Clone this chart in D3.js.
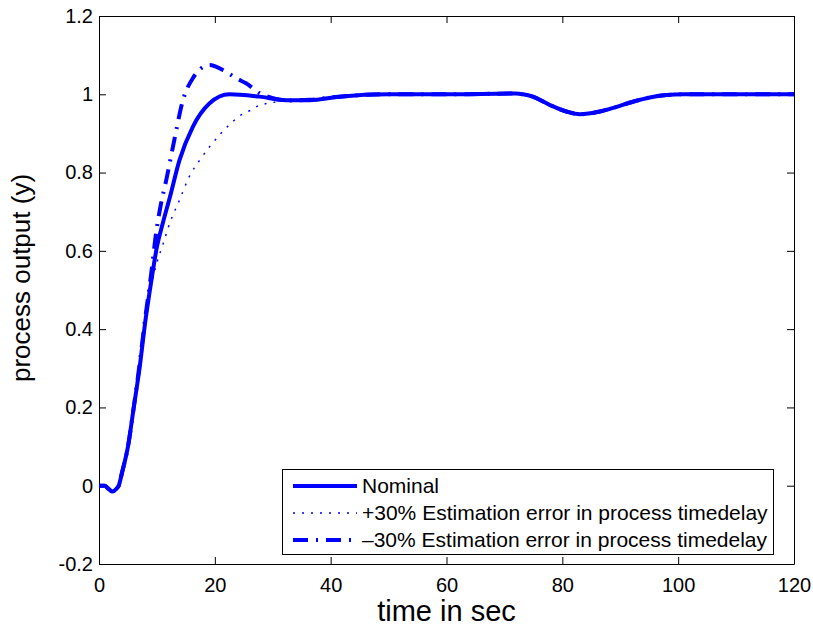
<!DOCTYPE html>
<html>
<head>
<meta charset="utf-8">
<script src="https://cdn.jsdelivr.net/npm/d3@7"></script>
<style>
  body { margin: 0; background: #fff; }
  svg { display: block; font-family: "Liberation Sans", Arial, Helvetica, sans-serif; }
  .axis text { font-size: 20px; fill: #000; }
  .axis path, .axis line { stroke: #000; stroke-width: 1; }
</style>
</head>
<body>
<div class="chart"></div>
<script>
// Axis ticks.
const xTicks = [0, 20, 40, 60, 80, 100, 120];
const yTicks = [-0.2, 0, 0.2, 0.4, 0.6, 0.8, 1, 1.2];
const yTickLabels = ["-0.2", "0", "0.2", "0.4", "0.6", "0.8", "1", "1.2"];

// Nominal response.
const tNominal = [0, 1, 1.5, 2.3, 3, 3.4, 4, 5, 6, 7, 8, 9, 10, 11, 12.2, 13.9, 16.2, 19.1, 22.5, 27.7, 32.3, 36.4, 41.5];
const yNominal = [0, 0, -0.006, -0.015, -0.008, 0, 0.035, 0.1, 0.2, 0.3, 0.42, 0.52, 0.61, 0.67, 0.735, 0.832, 0.917, 0.977, 1.0, 0.994, 0.985, 0.985, 0.994];

// +30% estimation error in time delay.
const tPlus = [0, 1, 1.5, 2.3, 3, 3.4, 4, 5, 6, 7, 8, 9, 10, 11, 12.2, 13.9, 15.6, 17.4, 19.1, 20.8, 22.5, 24.3, 26, 27.7, 29.7, 32.3, 36.4, 41.5];
const yPlus = [0, 0, -0.006, -0.015, -0.008, 0, 0.035, 0.1, 0.2, 0.3, 0.42, 0.51, 0.57, 0.615, 0.67, 0.73, 0.79, 0.832, 0.866, 0.896, 0.922, 0.945, 0.958, 0.972, 0.978, 0.985, 0.986, 0.994];

// -30% estimation error in time delay.
const tMinus = [0, 1, 1.5, 2.3, 3, 3.4, 4, 5, 6, 7, 8, 9, 9.9, 10.7, 11.6, 13, 14.5, 16.2, 19.1, 21.4, 23.7, 25.4, 27.7, 30, 33, 36.4, 41.5];
const yMinus = [0, 0, -0.006, -0.015, -0.008, 0, 0.035, 0.1, 0.2, 0.31, 0.43, 0.54, 0.65, 0.72, 0.78, 0.883, 0.985, 1.041, 1.075, 1.062, 1.041, 1.028, 1.003, 0.99, 0.984, 0.986, 0.994];

// Shared tail (all three curves coincide, load disturbance near t=73).
const tTail = [50, 60, 72, 73.2, 74.9, 77.8, 80.7, 83, 86.5, 89.4, 92.2, 95.1, 98, 100.8, 110, 120];
const yTail = [1.0, 1.0, 1.002, 1.0, 0.994, 0.973, 0.956, 0.949, 0.956, 0.968, 0.981, 0.992, 0.998, 1.0, 1.0, 1.0];

const seriesNames = [
  "Nominal",
  "+30% Estimation error in process timedelay",
  "\u201330% Estimation error in process timedelay",
];

function toPoints(ts, ys) {
  return ts.map((t, i) => ({ t: t, y: ys[i] }));
}

const series = [
  { name: seriesNames[0], values: toPoints(tNominal.concat(tTail), yNominal.concat(yTail)), width: 4, dash: null },
  { name: seriesNames[1], values: toPoints(tPlus.concat(tTail), yPlus.concat(yTail)), width: 1.5, dash: "2,7" },
  { name: seriesNames[2], values: toPoints(tMinus.concat(tTail), yMinus.concat(yTail)), width: 4, dash: "15,8,2,8" },
];

// Margin convention.
const margin = { top: 16, right: 19, bottom: 63, left: 99 };
const width = 813 - margin.left - margin.right;
const height = 627 - margin.top - margin.bottom;

const root = d3.select(".chart")
  .append("svg")
  .attr("width", 813)
  .attr("height", 627);

const svg = root.append("g")
  .attr("transform", `translate(${margin.left}, ${margin.top})`);

// Scales.
const xScale = d3.scaleLinear().domain([0, 120]).range([0, width]);
const yScale = d3.scaleLinear().domain([-0.2, 1.2]).range([height, 0]);

// Axes (MATLAB style box with inward ticks).
svg.append("g")
  .attr("class", "x axis")
  .attr("transform", `translate(0, ${height})`)
  .call(d3.axisBottom(xScale).tickValues(xTicks).tickFormat(d3.format("d"))
    .tickSizeInner(-7).tickSizeOuter(0).tickPadding(14));

svg.append("g")
  .attr("class", "x axis top")
  .call(d3.axisTop(xScale).tickValues(xTicks).tickFormat("")
    .tickSizeInner(-7).tickSizeOuter(0));

svg.append("g")
  .attr("class", "y axis")
  .call(d3.axisLeft(yScale).tickValues(yTicks).tickFormat((d, i) => yTickLabels[i])
    .tickSizeInner(-7).tickSizeOuter(0).tickPadding(6));

svg.append("g")
  .attr("class", "y axis right")
  .attr("transform", `translate(${width}, 0)`)
  .call(d3.axisRight(yScale).tickValues(yTicks).tickFormat("")
    .tickSizeInner(-7).tickSizeOuter(0));

// Axis labels.
root.append("text")
  .attr("x", margin.left + width / 2)
  .attr("y", 621)
  .attr("text-anchor", "middle")
  .style("font-size", "29px")
  .text("time in sec");

root.append("text")
  .attr("transform", "translate(30, 278) rotate(-90)")
  .attr("text-anchor", "middle")
  .style("font-size", "26px")
  .text("process output (y)");

// Line generator.
const lineGen = d3.line()
  .x((d) => xScale(d.t))
  .y((d) => yScale(d.y))
  .curve(d3.curveMonotoneX);

svg.append("g")
  .attr("class", "line-chart")
  .selectAll(".line-series")
  .data(series)
  .enter()
  .append("path")
  .attr("class", "line-series")
  .attr("d", (d) => lineGen(d.values))
  .style("fill", "none")
  .style("stroke", "#0000ff")
  .style("stroke-width", (d) => d.width)
  .style("stroke-dasharray", (d) => d.dash)
  .style("stroke-linejoin", "round");

// Legend.
const legend = root.append("g").attr("class", "legend");
legend.append("rect")
  .attr("x", 282.5)
  .attr("y", 469.5)
  .attr("width", 491)
  .attr("height", 85)
  .style("fill", "#fff")
  .style("stroke", "#000")
  .style("stroke-width", 1);

const rows = legend.selectAll(".legend-row")
  .data(series)
  .enter()
  .append("g")
  .attr("class", "legend-row")
  .attr("transform", (d, i) => `translate(0, ${486 + i * 27})`);

rows.append("line")
  .attr("x1", 293)
  .attr("x2", 357)
  .style("stroke", "#0000ff")
  .style("stroke-width", (d) => d.width)
  .style("stroke-dasharray", (d) => d.dash);

rows.append("text")
  .attr("x", 362)
  .attr("dy", "0.35em")
  .style("font-size", "21px")
  .text((d) => d.name);
</script>
</body>
</html>
